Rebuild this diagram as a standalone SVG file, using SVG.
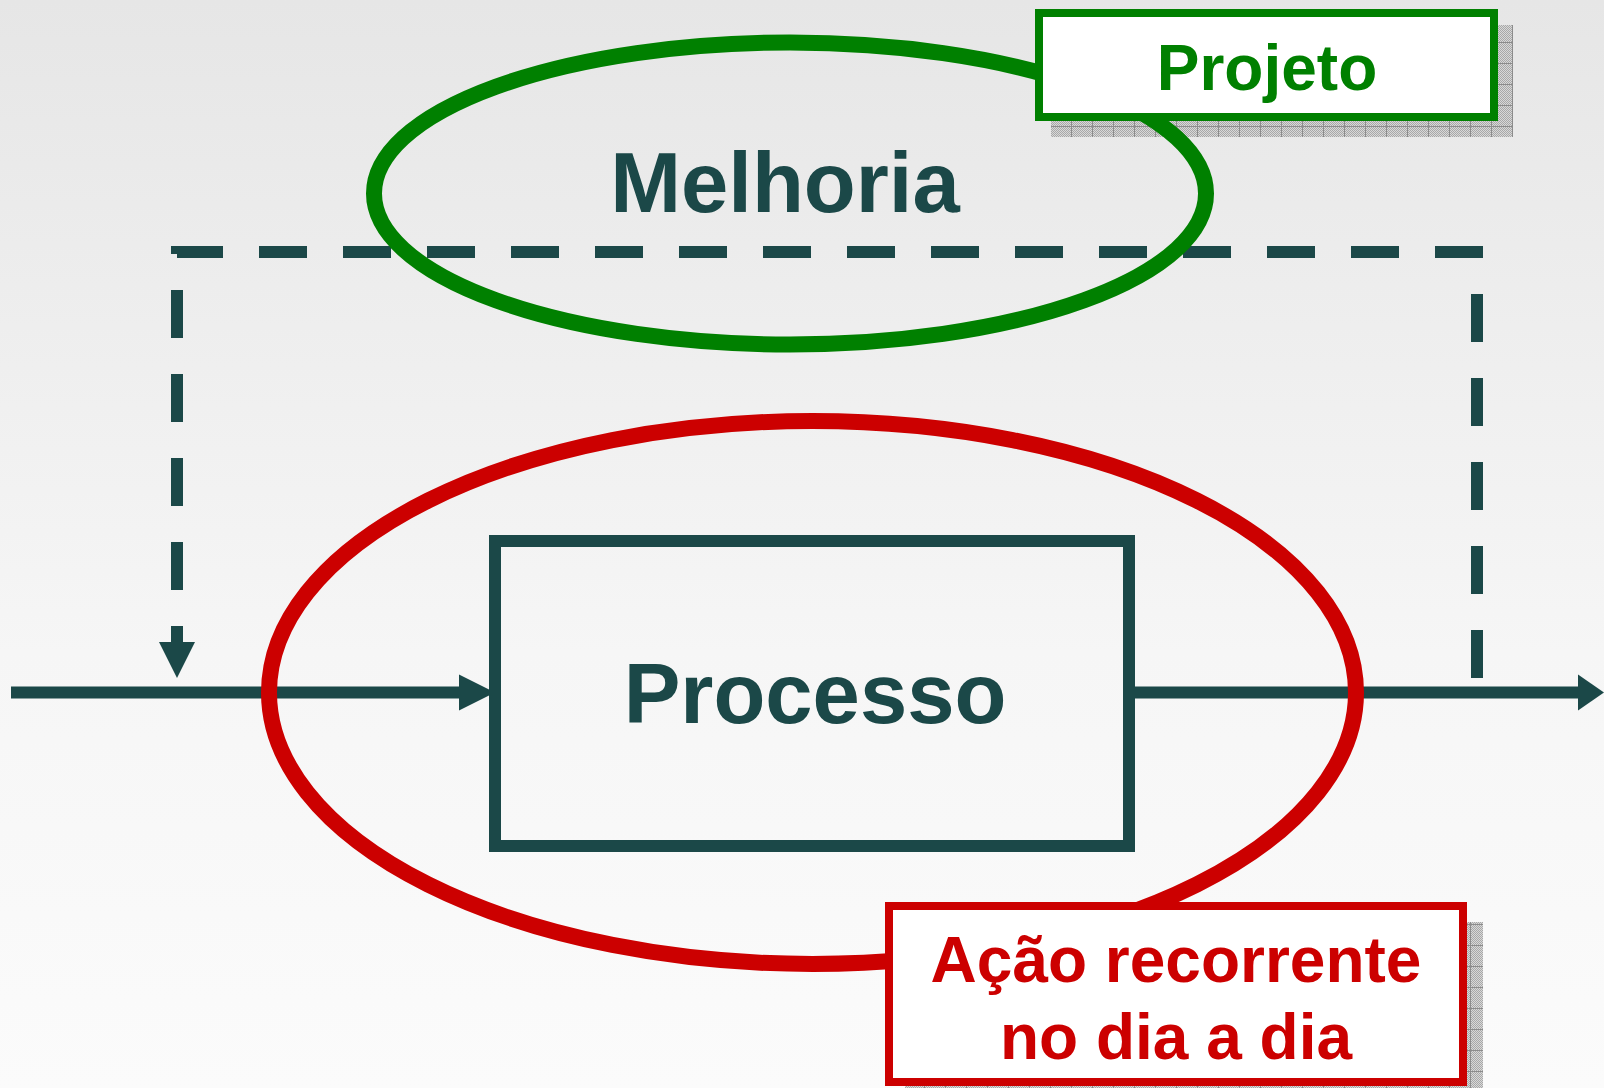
<svg xmlns="http://www.w3.org/2000/svg" width="1604" height="1088" viewBox="0 0 1604 1088">
  <defs>
    <linearGradient id="bg" x1="0" y1="0" x2="0" y2="1">
      <stop offset="0" stop-color="#e6e6e6"/>
      <stop offset="0.6" stop-color="#f6f6f6"/>
      <stop offset="1" stop-color="#fbfbfb"/>
    </linearGradient>
    <pattern id="dither" width="2" height="2" patternUnits="userSpaceOnUse">
      <rect width="2" height="2" fill="#d8d8d8"/>
      <rect width="1" height="1" fill="#a8a8a8"/>
      <rect x="1" y="1" width="1" height="1" fill="#a8a8a8"/>
    </pattern>
    <pattern id="grid" width="21" height="21" patternUnits="userSpaceOnUse">
      <path d="M0 0.5H21M0.5 0V21" stroke="#8c8c8c" stroke-width="1" fill="none"/>
    </pattern>
    <style>
      .teal { stroke: #1b4848; fill: none; stroke-width: 12; }
      .tealfill { fill: #1b4848; }
      .lbl { font-family: "Liberation Sans", Arial, Helvetica, sans-serif; font-weight: bold; text-anchor: middle; }
      .box { fill: #ffffff; stroke-width: 8; }
    </style>
  </defs>

  <rect x="0" y="0" width="1604" height="1088" fill="url(#bg)"/>

  <g id="shadows">
    <rect x="1051" y="25" width="462" height="112" fill="url(#dither)"/>
    <rect x="1051" y="25" width="462" height="112" fill="url(#grid)"/>
    <rect x="905" y="922" width="578" height="180" fill="url(#dither)"/>
    <rect x="905" y="922" width="578" height="180" fill="url(#grid)"/>
  </g>

  <g id="connectors">
    <!-- main flow line -->
    <line class="teal" x1="11" y1="692.5" x2="462" y2="692.5"/>
    <polygon class="tealfill" points="459,674.5 495,692.5 459,710.5"/>
    <line class="teal" x1="1129" y1="692.5" x2="1582" y2="692.5"/>
    <polygon class="tealfill" points="1578,674.5 1604,692.5 1578,710.5"/>
    <!-- dashed feedback loop -->
    <path class="teal" d="M1477,678 V252 H177 V642" stroke-dasharray="48 36"/>
    <polygon class="tealfill" points="159,642 195,642 177,678"/>
  </g>

  <g id="processo">
    <rect x="495" y="541" width="634" height="305" fill="none" stroke="#1b4848" stroke-width="12"/>
    <text class="lbl" x="815" y="723" font-size="85" fill="#1b4848">Processo</text>
  </g>

  <g id="melhoria">
    <ellipse cx="790" cy="193.5" rx="416" ry="151" fill="none" stroke="#008000" stroke-width="16"/>
    <text class="lbl" x="785" y="212" font-size="85" fill="#1b4848">Melhoria</text>
  </g>

  <g id="acao-ellipse">
    <ellipse cx="812.5" cy="692.5" rx="543.5" ry="271.5" fill="none" stroke="#cc0000" stroke-width="16"/>
  </g>

  <g id="projeto">
    <rect class="box" x="1039" y="13" width="455" height="104" stroke="#008000"/>
    <text class="lbl" x="1267" y="90" font-size="64" fill="#008000">Projeto</text>
  </g>

  <g id="acao-recorrente">
    <rect class="box" x="889" y="906" width="574" height="176" stroke="#cc0000"/>
    <text class="lbl" x="1176" y="982" font-size="64" fill="#cc0000">Ação recorrente</text>
    <text class="lbl" x="1176" y="1059" font-size="64" fill="#cc0000">no dia a dia</text>
  </g>
</svg>
